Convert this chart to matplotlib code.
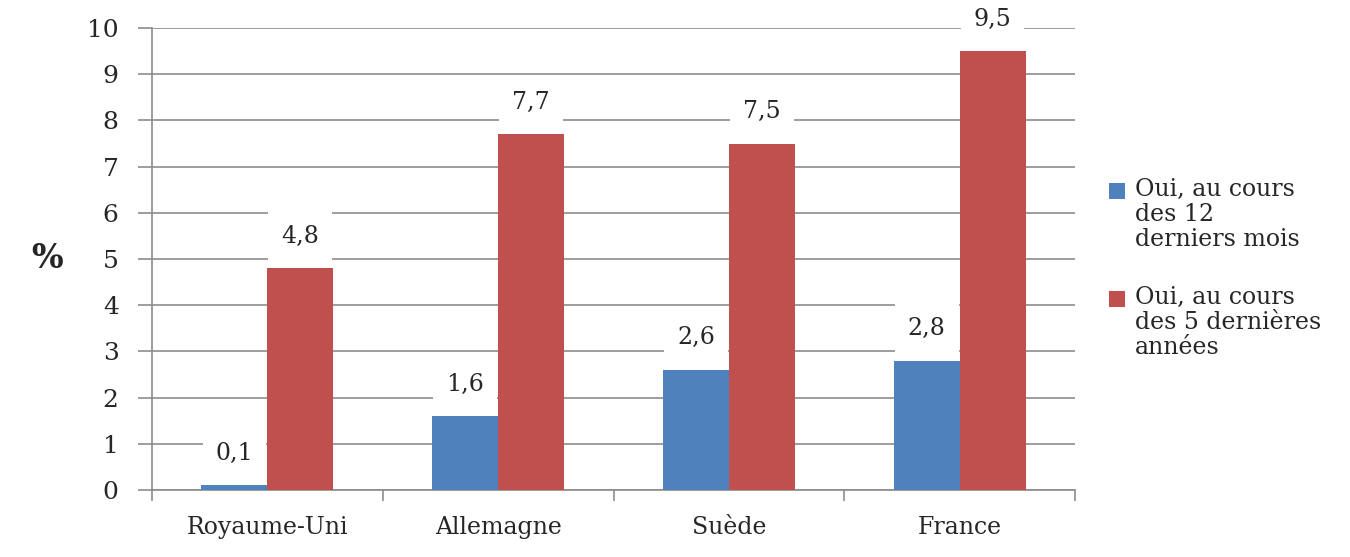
import matplotlib
matplotlib.use("Agg")
import matplotlib.pyplot as plt
from matplotlib.patches import Rectangle
import numpy as np

categories = ["Royaume-Uni", "Allemagne", "Suède", "France"]
series_names = ["Oui, au cours\ndes 12\nderniers mois",
                "Oui, au cours\ndes 5 dernières\nannées"]
vals_12m = [0.1, 1.6, 2.6, 2.8]
vals_5y = [4.8, 7.7, 7.5, 9.5]
yticks = list(range(0, 11))

BLUE = "#4F81BD"
RED = "#C0504D"
GRID = "#8C8C8C"
TXT = "#262626"

plt.rcParams['font.family'] = ['DejaVu Serif']

W, H = 1350, 557
fig = plt.figure(figsize=(W / 100, H / 100), dpi=100)
ax = fig.add_axes([152 / W, 67 / H, (1075 - 152) / W, (490 - 28) / H])

x = np.arange(len(categories))
bw = 0.286
b1 = ax.bar(x - bw / 2, vals_12m, bw, color=BLUE, zorder=3)
b2 = ax.bar(x + bw / 2, vals_5y, bw, color=RED, zorder=3)

ax.set_xlim(-0.5, len(categories) - 0.5)
ax.set_ylim(0, 10)
ax.set_yticks(yticks)
ax.set_yticklabels([str(v) for v in yticks])
ax.yaxis.grid(True, color=GRID, linewidth=1.2, zorder=0)
ax.set_axisbelow(True)

# x tick marks at category boundaries, labels at centres
ax.set_xticks(np.arange(-0.5, len(categories), 1.0))
ax.set_xticklabels([])
ax.set_xticks(x, minor=True)
ax.set_xticklabels(categories, minor=True)
ax.tick_params(axis='x', which='major', direction='out', length=8, width=1.2, color=GRID)
ax.tick_params(axis='x', which='minor', length=0, pad=19, labelsize=17, labelcolor=TXT)
ax.tick_params(axis='y', direction='out', length=10, width=1.2, color=GRID, pad=14,
               labelsize=18, labelcolor=TXT)

for s in ['top', 'right']:
    ax.spines[s].set_visible(False)
for s in ['left', 'bottom']:
    ax.spines[s].set_color(GRID)
    ax.spines[s].set_linewidth(1.2)

def label(bars, vals):
    for b, v in zip(bars, vals):
        ax.annotate(f"{v:.1f}".replace('.', ','),
                    (b.get_x() + b.get_width() / 2, v),
                    xytext=(0, 23), textcoords='offset points',
                    ha='center', va='center', fontsize=17, color=TXT, zorder=5,
                    bbox=dict(boxstyle='square,pad=0.55', fc='white', ec='none'))

label(b1, vals_12m)
label(b2, vals_5y)

# y label
fig.text(47 / W, 1 - 258 / H, "%", fontsize=24, color=TXT, ha='center', va='center',
         fontweight='bold')

# legend, handle aligned with first line
for i, (name, col) in enumerate(zip(series_names, [BLUE, RED])):
    ytop = 183 + i * 108
    fig.patches.append(Rectangle((1109 / W, 1 - (ytop + 16) / H), 16 / W, 16 / H,
                                 transform=fig.transFigure, facecolor=col,
                                 edgecolor='none'))
    fig.text(1135 / W, 1 - (ytop - 5) / H, name, fontsize=17, color=TXT,
             ha='left', va='top', linespacing=1.1)

fig.savefig("out.png", dpi=100, facecolor='white')
